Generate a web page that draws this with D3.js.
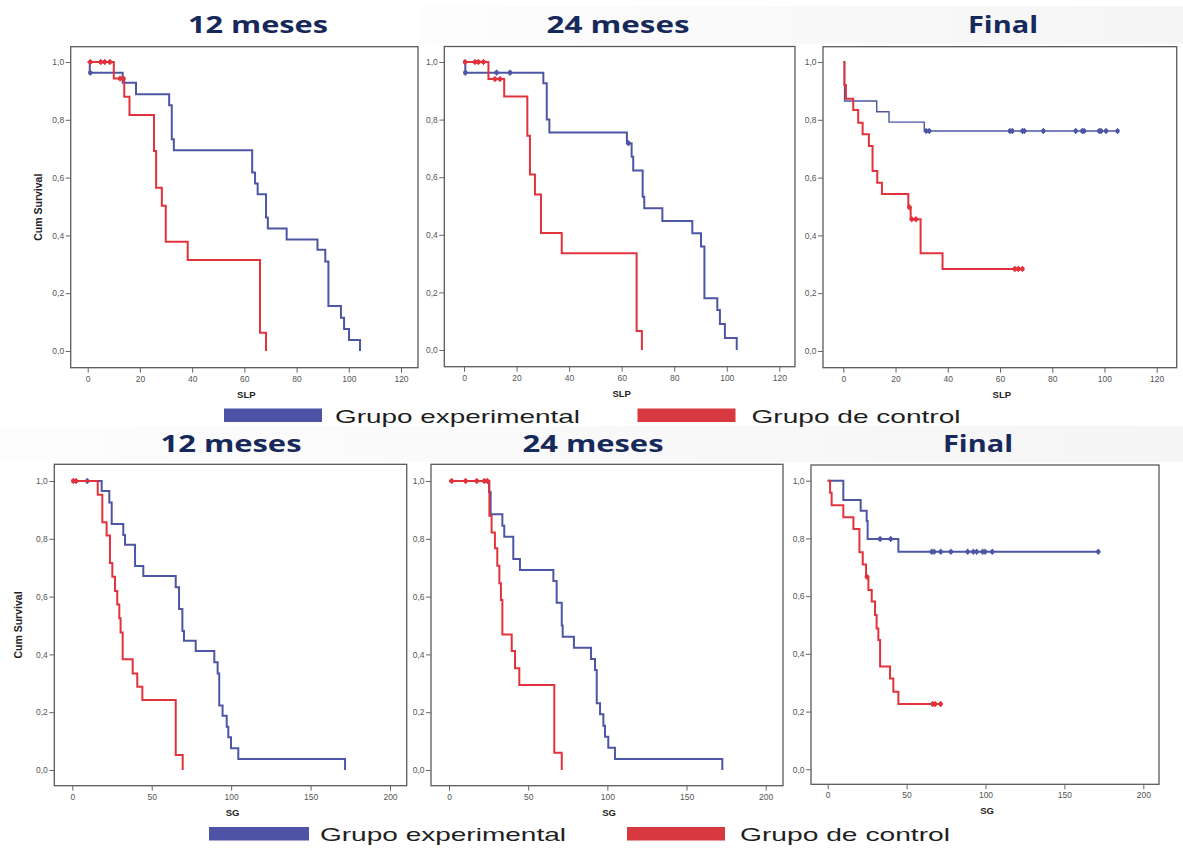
<!DOCTYPE html>
<html>
<head>
<meta charset="utf-8">
<script src="https://cdn.jsdelivr.net/npm/d3@7"></script>
<style>
  body { margin: 0; background: #fff; }
  svg { display: block; }
</style>
</head>
<body>
<svg id="chart" width="1183" height="848"></svg>
<script>
// Kaplan-Meier steps: [time, cum survival]
const slp12Exp = [[0,1],[0.8,0.963],[13.4,0.928],[18.5,0.888],[31.2,0.85],[32.2,0.733],[33,0.695],[63,0.618],[64.1,0.58],[65.1,0.542],[68.3,0.462],[69,0.424],[76.2,0.386],[88,0.35],[91,0.31],[92.2,0.156],[97,0.115],[98.2,0.076],[100.1,0.038],[104.3,0]];
const slp12ExpCens = [1];
const slp12Ctl = [[0,1],[10,0.943],[14,0.88],[16,0.817],[25.4,0.692],[26.2,0.565],[28.4,0.503],[29.9,0.378],[38.3,0.315],[66,0.063],[68.3,0]];
const slp12CtlCens = [1,5,6.5,8.5,12.4,13.7];

const slp24Exp = [[0,1],[0.5,0.963],[30.2,0.926],[31.5,0.8],[32.5,0.755],[62,0.718],[63.8,0.671],[64.4,0.623],[68,0.532],[68.6,0.492],[75.5,0.448],[86.9,0.405],[90.2,0.359],[91.5,0.18],[96.4,0.139],[97.4,0.09],[99.3,0.042],[103.8,0]];
const slp24ExpCens = [0.5,12.4,17.5,62.6];
const slp24Ctl = [[0,1],[9.3,0.941],[15.3,0.88],[24.1,0.744],[25.1,0.609],[27,0.54],[29.3,0.406],[37.2,0.336],[65.7,0.066],[67.7,0]];
const slp24CtlCens = [0.4,4.2,5.5,7.4,11.8,13.7];

const slpFinExp = [[0,1],[0.5,0.865],[12.8,0.828],[17.5,0.792],[31,0.761],[105,0.761]];
const slpFinExpCens = [31.7,32.9,63.8,64.7,68.6,69.3,76.6,89,91.5,92.2,98,98.7,100.6,105];
const slpFinCtl = [[0,1],[0.4,0.92],[1,0.873],[3.8,0.834],[5.7,0.79],[7.4,0.75],[9.8,0.709],[11.2,0.623],[13,0.582],[14.8,0.543],[24.9,0.497],[25.8,0.456],[29.6,0.338],[38,0.284],[69,0.284]];
const slpFinCtlCens = [25.3,26.2,27.8,65.7,67,68.6];

const sg12Exp = [[0,1],[18.5,0.965],[23.3,0.926],[24.8,0.851],[32.1,0.813],[33.2,0.779],[39.5,0.706],[44.7,0.671],[65.1,0.632],[67.2,0.557],[69.3,0.481],[70.3,0.447],[77.7,0.412],[89.4,0.373],[91.5,0.334],[92.5,0.223],[94.6,0.188],[97.2,0.15],[98.2,0.113],[99.9,0.075],[104.5,0.038],[171.7,0]];
const sg12ExpCens = [9.4];
const sg12Ctl = [[0,1],[16,0.952],[18.9,0.857],[21.6,0.811],[23.7,0.716],[25.2,0.669],[26.9,0.619],[28.3,0.573],[29.6,0.525],[30.4,0.476],[31.7,0.383],[38,0.334],[40.9,0.288],[44.1,0.242],[65.1,0.052],[69.5,0]];
const sg12CtlCens = [0.6,2.3];

const sg24Exp = [[0,1],[25.3,0.962],[26.3,0.885],[33.7,0.845],[34.9,0.807],[40.6,0.73],[44.8,0.692],[65.9,0.654],[68,0.579],[71.2,0.5],[71.8,0.461],[78.9,0.423],[89.7,0.384],[92.2,0.346],[93.3,0.231],[95.4,0.193],[97.5,0.153],[98.5,0.115],[100.6,0.077],[104.8,0.038],[172.6,0]];
const sg24ExpCens = [];
const sg24Ctl = [[0,1],[25.5,0.88],[26.9,0.822],[29,0.767],[30.5,0.707],[31.8,0.646],[32.8,0.588],[33.7,0.469],[39.6,0.412],[41.7,0.352],[44.4,0.294],[66.5,0.06],[71.2,0]];
const sg24CtlCens = [1.7,10.5,17.5,22.3,24.2];

const sgFinExp = [[0,1],[9.9,0.933],[20.9,0.896],[24.7,0.86],[25.3,0.798],[44.8,0.754],[171.5,0.754]];
const sgFinExpCens = [33.2,39.9,65.9,67.4,71.6,78.1,88.7,92.3,94.4,98.2,99.7,104.3,171.5];
const sgFinCtl = [[0,1],[1.5,0.958],[2.5,0.915],[9.9,0.873],[16.3,0.833],[20.1,0.752],[22.2,0.71],[24.3,0.667],[25.8,0.621],[27.9,0.581],[30,0.535],[31,0.488],[32.1,0.448],[33.2,0.356],[39.5,0.315],[41.6,0.269],[44.8,0.226],[71.6,0.226]];
const sgFinCtlCens = [24.8,66.5,68,71.6];

const slpTicks = [0,20,40,60,80,100,120];
const sgTicks  = [0,50,100,150,200];
const yTicks   = [0,0.2,0.4,0.6,0.8,1];
const titles   = ["12 meses","24 meses","Final"];
const groups   = ["Grupo experimental","Grupo de control"];

const blue = "#4d56a5", red = "#e2323c", navy = "#16295a";

const svg = d3.select("#chart");

// very soft slide background bands
const defs = svg.append("defs");
const grad = defs.append("linearGradient").attr("id","band").attr("x1","0").attr("x2","1");
grad.append("stop").attr("offset","0%").attr("stop-color","#fdfdfd");
grad.append("stop").attr("offset","100%").attr("stop-color","#f5f5f5");
svg.append("rect").attr("x",0).attr("y",0).attr("width",1183).attr("height",848).attr("fill","#fff");
svg.append("rect").attr("x",420).attr("y",6).attr("width",763).attr("height",38).attr("fill","url(#band)");
svg.append("rect").attr("x",0).attr("y",426).attr("width",1183).attr("height",36).attr("fill","url(#band)");

const panels = [
  {box:[70.7,46.7,418,367.7], xr:[87.7,401], yr:[351,62], dom:[0,120], ticks:slpTicks, xlab:"SLP", title:titles[0], tx:258, ty:33, tw:140, ylx:42,
   exp:slp12Exp, expC:slp12ExpCens, ctl:slp12Ctl, ctlC:slp12CtlCens, expW:2},
  {box:[444.3,46.5,795,366.7], xr:[464,779.3], yr:[350,62], dom:[0,120], ticks:slpTicks, xlab:"SLP", title:titles[1], tx:618, ty:33, tw:143, ylx:null,
   exp:slp24Exp, expC:slp24ExpCens, ctl:slp24Ctl, ctlC:slp24CtlCens, expW:2},
  {box:[823,46.7,1176.7,367.7], xr:[843.3,1156.7], yr:[351,62], dom:[0,120], ticks:slpTicks, xlab:"SLP", title:titles[2], tx:1003, ty:33, tw:70, ylx:null,
   exp:slpFinExp, expC:slpFinExpCens, ctl:slpFinCtl, ctlC:slpFinCtlCens, expW:1.4},
  {box:[54.3,464.3,406.7,785.7], xr:[72.3,390], yr:[770,481], dom:[0,200], ticks:sgTicks, xlab:"SG", title:titles[0], tx:231, ty:451.5, tw:141, ylx:22,
   exp:sg12Exp, expC:sg12ExpCens, ctl:sg12Ctl, ctlC:sg12CtlCens, expW:2},
  {box:[431,464.3,783,785.7], xr:[449,765.7], yr:[770,481], dom:[0,200], ticks:sgTicks, xlab:"SG", title:titles[1], tx:593, ty:451.5, tw:141, ylx:null,
   exp:sg24Exp, expC:sg24ExpCens, ctl:sg24Ctl, ctlC:sg24CtlCens, expW:2},
  {box:[811,465,1159,784.3], xr:[827.7,1143.3], yr:[769.3,480.7], dom:[0,200], ticks:sgTicks, xlab:"SG", title:titles[2], tx:978, ty:451.5, tw:70, ylx:null,
   exp:sgFinExp, expC:sgFinExpCens, ctl:sgFinCtl, ctlC:sgFinCtlCens, expW:2}
];

const fmt = d => d3.format(".1f")(d).replace(".", ",");

// survival value of a step curve at time t
function survAt(steps, t){
  let s = steps[0][1];
  steps.forEach(p => { if (p[0] <= t) s = p[1]; });
  return s;
}

panels.forEach(p => {
  const [l,t,r,b] = p.box;
  const x = d3.scaleLinear().domain(p.dom).range(p.xr);
  const y = d3.scaleLinear().domain([0,1]).range(p.yr);
  const g = svg.append("g");

  g.append("rect")
    .attr("x",l).attr("y",t).attr("width",r-l).attr("height",b-t)
    .attr("fill","#fff").attr("stroke","#5a5a5a").attr("stroke-width",1.3);

  const ya = g.append("g").attr("transform",`translate(${l},0)`)
    .call(d3.axisLeft(y).tickValues(yTicks).tickFormat(fmt).tickSize(5).tickPadding(1.5));
  const xa = g.append("g").attr("transform",`translate(0,${b})`)
    .call(d3.axisBottom(x).tickValues(p.ticks).tickSize(5).tickPadding(3));
  [ya,xa].forEach(a => {
    a.select(".domain").remove();
    a.selectAll("line").attr("stroke","#666");
    a.selectAll("text").attr("fill","#555").style("font-family","Liberation Sans, Arial").style("font-size","8.5px");
  });

  const line = d3.line().x(d => x(d[0])).y(d => y(d[1])).curve(d3.curveStepAfter);

  [[p.exp,p.expC,blue,p.expW],[p.ctl,p.ctlC,red,2]].forEach(([steps,cens,col,w]) => {
    g.append("path").datum(steps)
      .attr("fill","none").attr("stroke",col).attr("stroke-width",w)
      .attr("d",line);
    g.selectAll(null).data(cens).enter().append("circle")
      .attr("cx",d => x(d)).attr("cy",d => y(survAt(steps,d)))
      .attr("r",2.3).attr("fill",col);
    g.selectAll(null).data(cens).enter().append("line")
      .attr("x1",d => x(d)).attr("x2",d => x(d))
      .attr("y1",d => y(survAt(steps,d)) - 3).attr("y2",d => y(survAt(steps,d)) + 3)
      .attr("stroke",col).attr("stroke-width",1.2);
  });

  // axis titles
  g.append("text")
    .attr("x",(l+r)/2 + 2).attr("y",b + 30)
    .attr("text-anchor","middle")
    .style("font-family","Liberation Sans, Arial").style("font-weight","bold").style("font-size","9.5px")
    .attr("fill","#222").text(p.xlab);

  if (p.ylx !== null) {
    g.append("text")
      .attr("transform",`translate(${p.ylx},${(t+b)/2}) rotate(-90)`)
      .attr("text-anchor","middle")
      .style("font-family","Liberation Sans, Arial").style("font-weight","bold").style("font-size","10.5px")
      .attr("fill","#222").text("Cum Survival");
  }

  // panel title
  svg.append("text")
    .attr("x",p.tx).attr("y",p.ty)
    .attr("text-anchor","middle")
    .attr("textLength",p.tw).attr("lengthAdjust","spacingAndGlyphs")
    .style("font-family","Open Sans, Lato, sans-serif").style("font-weight","bold").style("font-size","24px")
    .attr("fill",navy).text(p.title);
});

// legends
const legendRows = [
  {y:408.5, items:[{x:224, w:98, tx:335, tl:245}, {x:637.5, w:98, tx:751.5, tl:209}]},
  {y:827, items:[{x:209, w:100, tx:320, tl:246}, {x:627, w:98, tx:740, tl:210}]}
];
legendRows.forEach(row => {
  row.items.forEach((it,i) => {
    svg.append("rect").attr("x",it.x).attr("y",row.y).attr("width",it.w).attr("height",13.5)
      .attr("fill", i === 0 ? "#4f53a6" : "#d8383f");
    svg.append("text").attr("x",it.tx).attr("y",row.y + 14)
      .attr("textLength",it.tl).attr("lengthAdjust","spacingAndGlyphs")
      .style("font-family","Liberation Sans, Arial").style("font-size","19px")
      .attr("fill","#1e1e1e").text(groups[i]);
  });
});
</script>
</body>
</html>
